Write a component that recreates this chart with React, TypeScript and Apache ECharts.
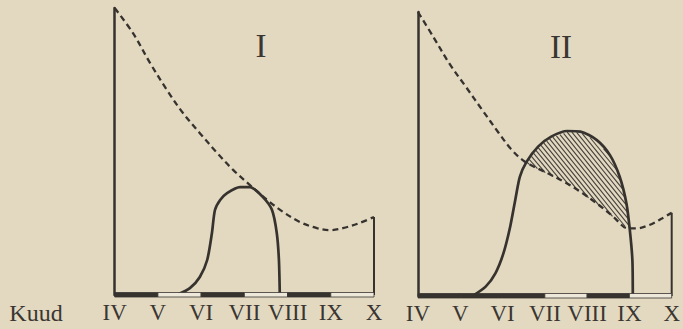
import React, { useEffect, useRef } from "react";
import * as echarts from "echarts";

// Month tick labels (April .. October) shared by both panels
const monthLabels = ["IV", "V", "VI", "VII", "VIII", "IX", "X"];
const monthStart = 4;
const panelTitles = ["I", "II"];
const axisName = "Kuud";

// Panel I: falling dashed curve and the small solid hump
const dashedI: [number, number][] = [
  [4.0, 100], [4.42, 91.3], [4.82, 80.8], [5.21, 71.4], [5.58, 63.4], [5.97, 56.4],
  [6.37, 49.5], [6.74, 43.6], [7.13, 38.3], [7.53, 33.1], [7.9, 28.9], [8.29, 25.4],
  [8.68, 23.3], [8.98, 22.6], [9.28, 23.3], [9.67, 25.1], [10.0, 27.2],
];
const solidI: [number, number][] = [
  [5.44, 0], [5.74, 2.4], [5.97, 6.3], [6.14, 12.2], [6.25, 21.6], [6.32, 29.6],
  [6.44, 33.1], [6.6, 35.5], [6.9, 37.6], [7.13, 37.6], [7.43, 34.1], [7.64, 29.6],
  [7.75, 21.6], [7.8, 12.2], [7.82, 0],
];

// Panel II: dashed curve and the larger solid hump
const dashedII: [number, number][] = [
  [4.0, 100], [4.36, 91.3], [4.74, 81.9], [5.13, 73.7], [5.52, 65.5], [5.91, 57.4],
  [6.22, 51.4], [6.53, 47.3], [7.07, 43.2], [7.46, 40.2], [7.84, 36.7], [8.23, 32.6],
  [8.62, 27.9], [8.97, 23.8], [9.16, 23.8], [9.47, 25.0], [9.78, 27.4], [10.0, 29.3],
];
const solidII: [number, number][] = [
  [5.29, 0], [5.6, 3.3], [5.83, 8.0], [6.02, 15.0], [6.18, 24.4], [6.3, 33.8],
  [6.41, 42.0], [6.57, 47.3], [6.84, 52.6], [7.15, 56.1], [7.53, 58.1], [7.84, 57.9],
  [8.23, 54.9], [8.54, 49.6], [8.77, 42.0], [8.93, 32.6], [9.01, 23.2], [9.07, 12.7],
  [9.08, 0],
];
// Stretch where the solid hump rises above the dashed curve (hatched)
const hatchRange = [6.5, 9.02];

// Baseline shading per month, IV..IX (1 = dark bar, 0 = light bar)
const baseShadeI = [1, 0, 1, 0, 1, 0];
const baseShadeII = [1, 1, 1, 0, 1, 0];

const INK = "#36322e";
const TEXT = "#3a3632";
const PAPER = "#e3d9c1";
const FONT = "'Liberation Serif', 'DejaVu Serif', serif";

function baselineData(shades: number[]) {
  return shades.map((s, i) => [monthStart + i, monthStart + i + 1, s]);
}

function baselineRender(params: any, api: any) {
  const p1 = api.coord([api.value(0), 0]);
  const p2 = api.coord([api.value(1), 0]);
  const dark = api.value(2) === 1;
  return {
    type: "rect",
    shape: { x: p1[0], y: p1[1] - 2.5, width: p2[0] - p1[0], height: 4.5 },
    style: { fill: dark ? INK : "#eee8db", stroke: INK, lineWidth: 0.8 },
  };
}

function hatchRender(params: any, api: any) {
  const [from, to] = hatchRange;
  const upper = solidII.filter(([x]) => x >= from && x <= to);
  const lower = dashedII.filter(([x]) => x >= from && x <= to).reverse();
  const poly = [...upper, ...lower].map((p) => api.coord(p));
  const k = 1.25; // steepness of the hatch strokes
  const step = 4.6;
  const cs = poly.map((p) => p[0] - p[1] / k);
  const cMin = Math.min(...cs);
  const cMax = Math.max(...cs);
  const children: any[] = [];
  for (let c = cMin + step / 2; c < cMax; c += step) {
    const hits: number[][] = [];
    for (let i = 0; i < poly.length; i++) {
      const a = poly[i];
      const b = poly[(i + 1) % poly.length];
      const fa = a[0] - a[1] / k - c;
      const fb = b[0] - b[1] / k - c;
      if ((fa <= 0 && fb > 0) || (fa > 0 && fb <= 0)) {
        const t = fa / (fa - fb);
        hits.push([a[0] + (b[0] - a[0]) * t, a[1] + (b[1] - a[1]) * t]);
      }
    }
    hits.sort((u, v) => u[1] - v[1]);
    for (let j = 0; j + 1 < hits.length; j += 2) {
      children.push({
        type: "line",
        shape: { x1: hits[j][0], y1: hits[j][1] + 1, x2: hits[j + 1][0] + 0.8, y2: hits[j + 1][1] + 1 },
        style: { stroke: "#45413c", lineWidth: 1.1 },
      });
    }
  }
  return { type: "group", children };
}

function panelAxes(idx: number) {
  return {
    x: {
      type: "value" as const,
      gridIndex: idx,
      min: monthStart,
      max: monthStart + monthLabels.length - 1,
      interval: 1,
      axisLine: { show: false },
      axisTick: { show: false },
      splitLine: { show: false },
      axisLabel: {
        show: true,
        margin: 6,
        color: TEXT,
        fontFamily: FONT,
        fontSize: 23,
        showMinLabel: true,
        showMaxLabel: true,
        formatter: (v: number) => monthLabels[Math.round(v) - monthStart] ?? "",
      },
    },
    y: {
      type: "value" as const,
      gridIndex: idx,
      min: 0,
      max: 100,
      axisLine: { show: true, lineStyle: { color: INK, width: 2.5 } },
      axisTick: { show: false },
      axisLabel: { show: false },
      splitLine: { show: false },
    },
  };
}

function panelSeries(idx: number, dashed: [number, number][], solid: [number, number][], shades: number[]) {
  const last = dashed[dashed.length - 1];
  return [
    {
      type: "line",
      xAxisIndex: idx,
      yAxisIndex: idx,
      data: dashed,
      smooth: 0.35,
      symbol: "none",
      clip: false,
      lineStyle: { color: INK, width: 2.3, type: [6, 4] },
      z: 3,
    },
    {
      type: "line",
      xAxisIndex: idx,
      yAxisIndex: idx,
      data: solid,
      smooth: 0.25,
      symbol: "none",
      clip: false,
      lineStyle: { color: INK, width: 2.7 },
      z: 4,
    },
    {
      type: "line",
      xAxisIndex: idx,
      yAxisIndex: idx,
      data: [[last[0], last[1]], [last[0], 0]],
      symbol: "none",
      clip: false,
      lineStyle: { color: INK, width: 2 },
      z: 3,
    },
    {
      type: "custom",
      xAxisIndex: idx,
      yAxisIndex: idx,
      data: baselineData(shades),
      encode: { x: [0, 1] },
      renderItem: baselineRender,
      clip: false,
      z: 5,
    },
  ];
}

export default function App() {
  const ref = useRef<HTMLDivElement>(null);

  useEffect(() => {
    if (!ref.current) return;
    const chart = echarts.init(ref.current, undefined, { renderer: "svg" });
    const a0 = panelAxes(0);
    const a1 = panelAxes(1);
    chart.setOption({
      animation: false,
      backgroundColor: PAPER,
      grid: [
        { left: 114.7, top: 8, width: 259.3, height: 287 },
        { left: 418, top: 12, width: 258, height: 284 },
      ],
      xAxis: [a0.x, a1.x],
      yAxis: [a0.y, a1.y],
      series: [
        ...panelSeries(0, dashedI, solidI, baseShadeI),
        ...panelSeries(1, dashedII, solidII, baseShadeII),
        {
          type: "custom",
          xAxisIndex: 1,
          yAxisIndex: 1,
          data: [[hatchRange[0], 50]],
          encode: { x: 0, y: 1 },
          renderItem: hatchRender,
          clip: false,
          z: 2,
        },
      ],
      graphic: [
        {
          type: "text",
          x: 261,
          y: 46,
          style: {
            text: panelTitles[0],
            font: `33px ${FONT}`,
            fill: TEXT,
            align: "center",
            verticalAlign: "middle",
          },
        },
        {
          type: "text",
          x: 561,
          y: 47,
          style: {
            text: panelTitles[1],
            font: `33px ${FONT}`,
            fill: TEXT,
            align: "center",
            verticalAlign: "middle",
          },
        },
        {
          type: "text",
          x: 36,
          y: 313,
          style: {
            text: axisName,
            font: `24px ${FONT}`,
            fill: TEXT,
            align: "center",
            verticalAlign: "middle",
          },
        },
      ],
    });
    return () => chart.dispose();
  }, []);

  return (
    <div
      ref={ref}
      style={{ position: "absolute", left: 0, top: 0, width: 683, height: 329, background: PAPER }}
    />
  );
}
